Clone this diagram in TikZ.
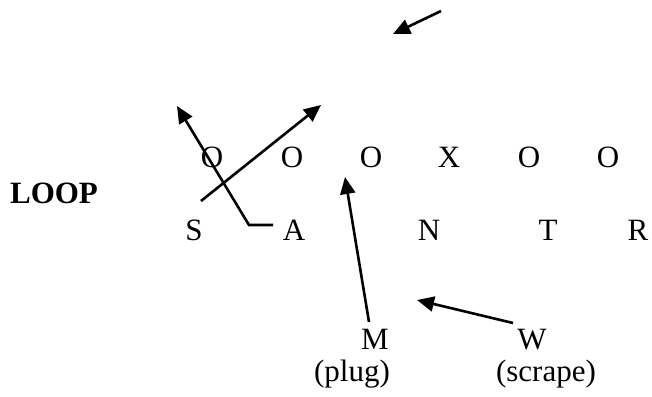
\documentclass[tikz,border=0pt]{standalone}
\usepackage{fontspec}
\setmainfont{Liberation Serif}
\usetikzlibrary{arrows.meta,positioning}

\begin{document}
\begin{tikzpicture}[
    x=1pt, y=-1pt,
    lbl/.style={anchor=base, inner sep=0pt, font=\fontsize{31}{37}\selectfont},
    arr/.style={-{Triangle[length=17pt,width=15pt]}, line width=2.6pt, draw=black}
]
    \useasboundingbox (0,0) rectangle (652,396);

    \node [lbl, font=\fontsize{31}{37}\selectfont\bfseries] (loop) at (54,203) {LOOP};

    % line of scrimmage
    \node [lbl] (o1) at (212,167) {O};
    \node [lbl] (o2) at (292,167) {O};
    \node [lbl] (o3) at (371,167) {O};
    \node [lbl] (x1) at (449,167) {X};
    \node [lbl] (o4) at (529,167) {O};
    \node [lbl] (o5) at (608,167) {O};

    \node [lbl] (s) at (194,240) {S};
    \node [lbl] (a) at (294,240) {A};
    \node [lbl] (n) at (429,240) {N};
    \node [lbl] (t) at (548,240) {T};
    \node [lbl] (r) at (638,240) {R};

    \node [lbl] (m) at (375,349) {M};
    \node [lbl] (plug) at (352,381) {(plug)};
    \node [lbl] (w) at (532,349) {W};
    \node [lbl] (scrape) at (546,381) {(scrape)};

    % arrow ends
    \coordinate (topstart) at (441,11);
    \coordinate (topend) at (393,34);
    \coordinate (astart) at (273,225);
    \coordinate (acorner) at (249,225);
    \coordinate (aend) at (177,106);
    \coordinate (sstart) at (201,201);
    \coordinate (send) at (321,105);
    \coordinate (mstart) at (369,322);
    \coordinate (mend) at (345,177);
    \coordinate (wstart) at (513,323);
    \coordinate (wend) at (417,300);

    \draw [arr] (topstart) -- (topend);
    \draw [arr] (astart) -- (acorner) -- (aend);
    \draw [arr] (sstart) -- (send);
    \draw [arr] (mstart) -- (mend);
    \draw [arr] (wstart) -- (wend);
\end{tikzpicture}
\end{document}
